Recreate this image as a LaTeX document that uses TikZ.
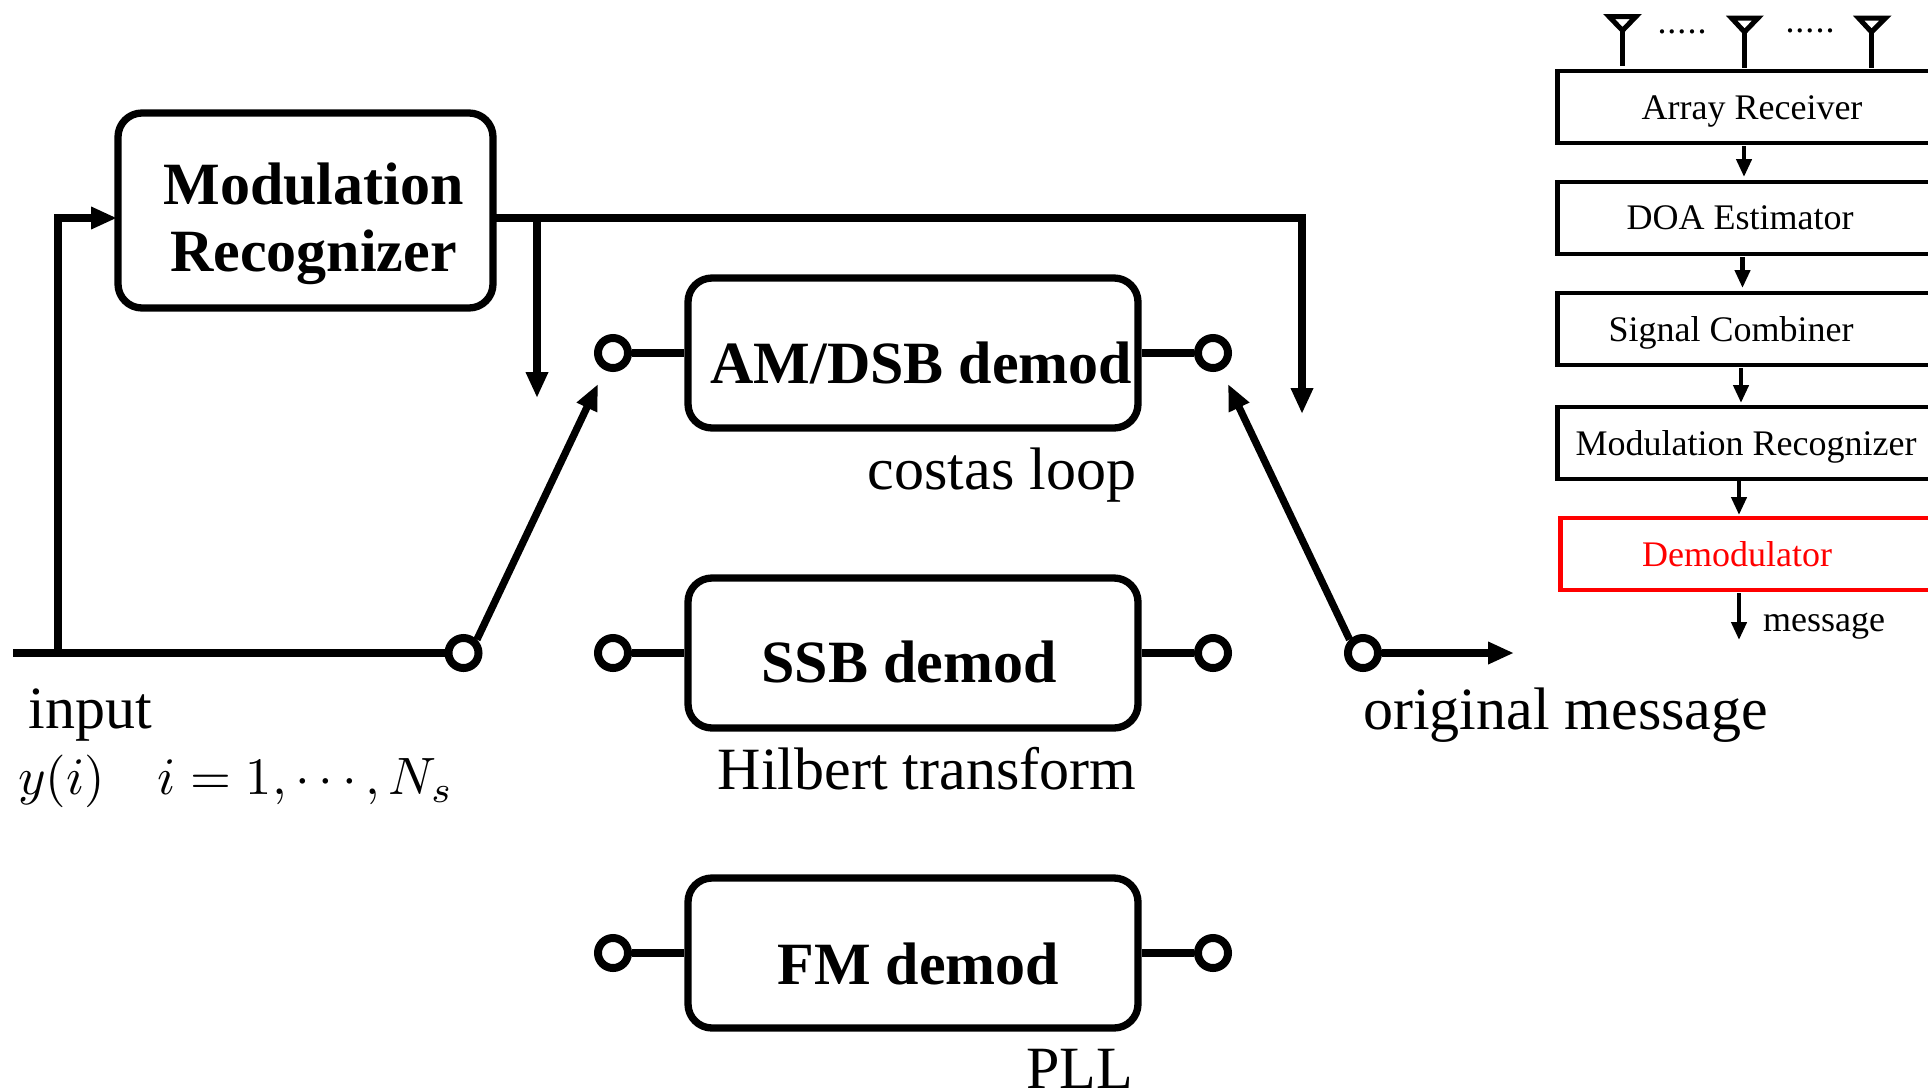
\documentclass[tikz,border=0pt]{standalone}
\usepackage{fontspec}
\usepackage{graphicx}
\setmainfont{Liberation Serif}
\usetikzlibrary{arrows.meta,calc}
\tikzset{x=1pt,y=-1pt,
  bigbox/.style={draw,line width=7.3pt,rounded corners=24pt,inner sep=0pt},
  term/.style={draw,circle,line width=8pt,fill=white,minimum size=30pt,inner sep=0pt},
  wire/.style={line width=7.5pt},
  arrowwire/.style={line width=7.3pt,-{Triangle[length=26pt,width=21pt]}},
  smallbox/.style={draw,line width=4.5pt,inner sep=0pt,minimum height=72pt,minimum width=400pt,anchor=west},
  smallarrow/.style={line width=4.3pt,-{Triangle[length=18pt,width=15pt]}},
  stem/.style={line width=4.5pt},
  antenna/.style={line width=5pt,miter limit=10},
  biglabel/.style={font=\fontsize{60}{60}\selectfont,inner sep=0pt},
  boldlabel/.style={font=\fontsize{60}{60}\selectfont\bfseries,inner sep=0pt},
  smalllabel/.style={font=\fontsize{36}{38}\selectfont,inner sep=0pt}
}
\begin{document}
\begin{tikzpicture}
\useasboundingbox (0,0) rectangle (1928,1090);
\clip (0,0) rectangle (1928,1090);
% main boxes
\node[bigbox,minimum width=375pt,minimum height=195pt] (mr) at (305.5,210.5) {};
\node[bigbox,minimum width=450pt,minimum height=150pt] (am) at (913,353) {};
\node[bigbox,minimum width=450pt,minimum height=150pt] (ssb) at (913,653) {};
\node[bigbox,minimum width=450pt,minimum height=150pt] (fm) at (913,953) {};
\node[boldlabel] (mrt1) at (313.5,184) {Modulation};
\node[boldlabel] (mrt2) at (313.5,257) {Recognizer};
\node[boldlabel] (amt) at (921.5,363) {AM/DSB demod};
\node[boldlabel] (ssbt) at (909,662) {SSB demod};
\node[boldlabel] (fmt) at (918.5,964) {FM demod};
% terminals
\node[term] (al) at (613,353) {};
\node[term] (ar) at (1213,353) {};
\node[term] (sl) at (613,653) {};
\node[term] (sr) at (1213,653) {};
\node[term] (fl) at (613,953) {};
\node[term] (fr) at (1213,953) {};
\node[term] (cin) at (463.5,653) {};
\node[term] (cout) at (1363,653) {};
\draw[wire] (al) -- (am);
\draw[wire] (am) -- (ar);
\draw[wire] (sl) -- (ssb);
\draw[wire] (ssb) -- (sr);
\draw[wire] (fl) -- (fm);
\draw[wire] (fm) -- (fr);
% input and routing
\coordinate (instart) at (13,653);
\coordinate (j0) at (58,653);
\coordinate (j1) at (58,218);
\coordinate (mrin) at (117,218);
\coordinate (j2) at (537,218);
\coordinate (j3) at (1302,218);
\coordinate (e2) at (537,398);
\coordinate (e3) at (1302,414);
\coordinate (swl) at (598,384);
\coordinate (swr) at (1228,384);
\coordinate (outend) at (1514,653);
\draw[wire] (instart) -- (cin);
\draw[wire,line cap=rect] (j0) -- (j1);
\draw[arrowwire] (j1) -- (mrin);
\draw[line width=7.3pt,line cap=rect] (mr.east |- j1) -- (j3);
\draw[arrowwire] (j2) -- (e2);
\draw[arrowwire] (j3) -- (e3);
\draw[arrowwire] (cin.north east) -- (swl);
\draw[arrowwire] (cout.north west) -- (swr);
\draw[arrowwire] (cout) -- (outend);
% main labels
\node[biglabel] (tin) at (90,715) {input};
\node[biglabel] (tout) at (1565.5,715) {original message};
\node[biglabel] (tcos) at (1002,475) {costas loop};
\node[biglabel] (thil) at (927,769) {Hilbert transform};
\node[biglabel,anchor=base] (tpll) at (1079.5,1088) {PLL};
\node[inner sep=0pt,anchor=west] (tmath) at (18,781) {\scalebox{5.26}{$y(i)\quad i=1,\cdots,N_s$}};
% right stack
\node[smallbox] (b1) at (1555,107) {};
\node[smallbox] (b2) at (1555,218) {};
\node[smallbox] (b3) at (1555,329) {};
\node[smallbox] (b4) at (1555,443) {};
\node[smallbox,draw=red] (b5) at (1558,554) {};
\node[smalllabel] (t1) at (1752,111) {Array Receiver};
\node[smalllabel] (t2) at (1740,218) {DOA Estimator};
\node[smalllabel] (t3) at (1731,333) {Signal Combiner};
\node[smalllabel] (t4) at (1746,447) {Modulation Recognizer};
\node[smalllabel,text=red] (t5) at (1737,554) {Demodulator};
\node[smalllabel] (t6) at (1824,626) {message};
\draw[smallarrow] (1744,146) -- (1744,177);
\draw[smallarrow] (1742.5,257) -- (1742.5,288);
\draw[smallarrow] (1741,368) -- (1741,403);
\draw[smallarrow] (1739,481) -- (1739,515);
\draw[smallarrow] (1739,593) -- (1739,640);
% antennas
\coordinate (a1) at (1622.5,30.5);
\coordinate (a2) at (1744.5,32);
\coordinate (a3) at (1871.5,32);
\draw[antenna] (1609,16.5) -- (1636,16.5) -- (a1) -- cycle;
\draw[antenna] (1731.5,18) -- (1758,18) -- (a2) -- cycle;
\draw[antenna] (1858.5,18) -- (1885.5,18) -- (a3) -- cycle;
\draw[stem] (a1) -- (1622.5,66);
\draw[stem] (a2) -- (1744.5,68);
\draw[stem] (a3) -- (1871.5,68);
\node[smalllabel,anchor=base] (d1) at (1682,33) {.\kern1pt.\kern1pt.\kern1pt.\kern1pt.};
\node[smalllabel,anchor=base] (d2) at (1810,32) {.\kern1pt.\kern1pt.\kern1pt.\kern1pt.};
\end{tikzpicture}
\end{document}
